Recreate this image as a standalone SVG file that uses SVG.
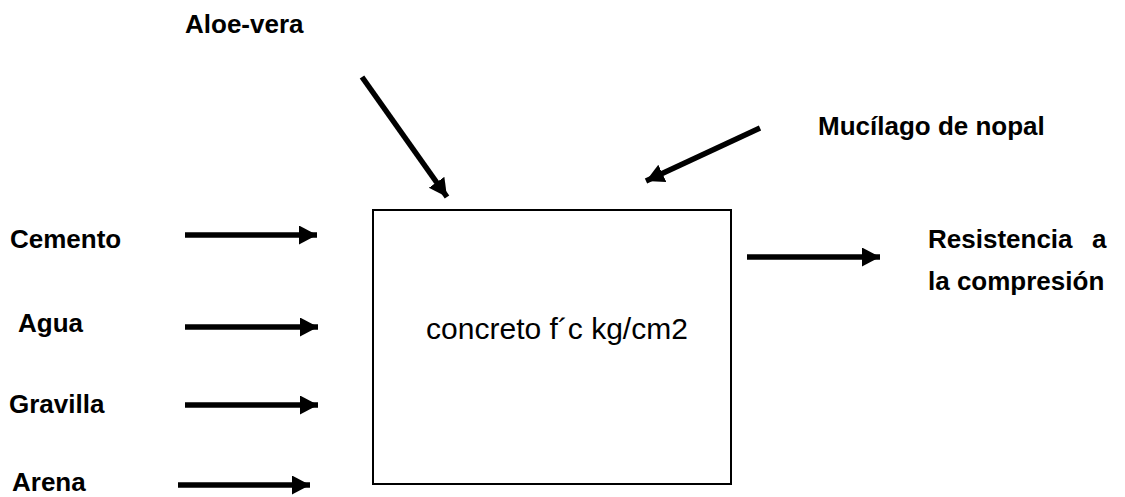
<svg xmlns="http://www.w3.org/2000/svg" width="1125" height="497" viewBox="0 0 1125 497">
<style>
.lbl{font-family:"Liberation Sans",Arial,sans-serif;font-weight:bold;font-size:26px;fill:#000}
.main{font-family:"Liberation Sans",Arial,sans-serif;font-size:30px;fill:#000}
.arr{stroke:#000;stroke-width:5.5;fill:none;marker-end:url(#head)}
</style>
<defs>
<marker id="head" markerUnits="userSpaceOnUse" markerWidth="19" markerHeight="20" refX="18" refY="9.5" orient="auto">
<path d="M0,0 L18,9.5 L0,19 z" fill="#000"/>
</marker>
</defs>
<rect width="1125" height="497" fill="#fff"/>
<g id="box">
<rect x="373" y="210" width="358" height="274" fill="none" stroke="#000" stroke-width="2"/>
<text class="main" x="557" y="339" text-anchor="middle">concreto f´c kg/cm2</text>
</g>
<g id="aloe"><text class="lbl" x="185" y="33">Aloe-vera</text></g>
<g id="mucilago"><text class="lbl" x="818" y="135">Mucílago de nopal</text></g>
<g id="cemento"><text class="lbl" x="10" y="248">Cemento</text></g>
<g id="agua"><text class="lbl" x="18" y="332">Agua</text></g>
<g id="gravilla"><text class="lbl" x="9" y="413">Gravilla</text></g>
<g id="arena"><text class="lbl" x="12" y="491">Arena</text></g>
<g id="resistencia">
<text class="lbl" x="928" y="248">Resistencia<tspan x="1092">a</tspan></text>
<text class="lbl" x="928" y="290">la compresión</text>
</g>
<g id="connectors">
<line class="arr" x1="185" y1="235" x2="317" y2="235"/>
<line class="arr" x1="185" y1="327" x2="318" y2="327"/>
<line class="arr" x1="185" y1="405" x2="318" y2="405"/>
<line class="arr" x1="178" y1="485" x2="310" y2="485"/>
<line class="arr" x1="362" y1="77" x2="447" y2="197"/>
<line class="arr" x1="760" y1="128" x2="646" y2="181"/>
<line class="arr" x1="747" y1="257" x2="880" y2="257"/>
</g>
</svg>
